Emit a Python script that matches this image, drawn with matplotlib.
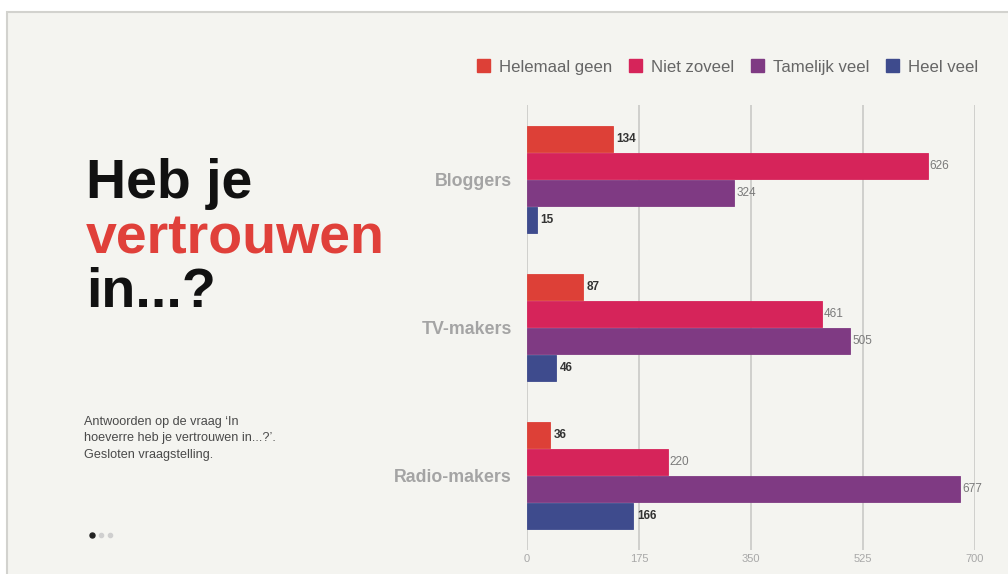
import numpy as np
import matplotlib
matplotlib.use('Agg')
import matplotlib.pyplot as plt
from matplotlib.patches import Rectangle, Patch
from matplotlib.lines import Line2D

plt.rcParams['font.family'] = ['Liberation Sans', 'DejaVu Sans']

# data
groups = ['Bloggers', 'TV-makers', 'Radio-makers']
answers = ['Helemaal geen', 'Niet zoveel', 'Tamelijk veel', 'Heel veel']
helemaal_geen = [134, 87, 36]
niet_zoveel = [626, 461, 220]
tamelijk_veel = [324, 505, 677]
heel_veel = [15, 46, 166]
series = [helemaal_geen, niet_zoveel, tamelijk_veel, heel_veel]
x_ticks = [0, 175, 350, 525, 700]

colors = ['#dd4037', '#d6245a', '#7f3a83', '#3e4b8d']
bg = '#f4f4f0'

W, H = 1008, 574
fig = plt.figure(figsize=(W / 100, H / 100), dpi=100)
fig.patch.set_facecolor('white')

# slide panel with thin grey frame
fig.add_artist(Rectangle((7 / W, -0.1), 1.2, 1 - 12.5 / H + 0.1, transform=fig.transFigure,
                         facecolor=bg, edgecolor='#d2d2ce', linewidth=1.5, zorder=0))

ax = fig.add_axes([527 / W, 1 - 550 / H, 448 / W, 445 / H])
ax.set_facecolor('none')

step = 0.182
height = 0.175
y = np.arange(len(groups))
for i, (vals, col) in enumerate(zip(series, colors)):
    pos = y + (i - 1.5) * step
    ax.barh(pos, vals, height=height, color=col, edgecolor=col, linewidth=0.6, zorder=3)
    for p, v in zip(pos, vals):
        if i in (0, 3):
            ax.text(v + 6, p, str(v), va='center', ha='left', fontsize=8.5,
                    fontweight='bold', color='#333333', zorder=4)
        else:
            ax.text(v + 3, p, str(v), va='center', ha='left', fontsize=8.5,
                    color='#7a7a7a', zorder=4)

ax.set_xlim(0, 700)
ax.set_ylim(2.5, -0.5)
ax.set_xticks(x_ticks)
ax.set_xticklabels([str(t) for t in x_ticks], fontsize=8, color='#a8a8a8')
ax.set_yticks(y)
ax.set_yticklabels(groups, fontsize=12.8, fontweight='bold', color='#a4a4a4')
ax.tick_params(axis='x', length=0, pad=3)
ax.tick_params(axis='y', length=0, pad=11)
for t in x_ticks:
    ax.axvline(t, color='#c9c9c7', linewidth=1.2, zorder=1)
for s in ax.spines.values():
    s.set_visible(False)

# legend
handles = [Patch(facecolor=c, edgecolor=c) for c in colors]
fig.legend(handles, answers, ncol=4, frameon=False, loc='center right',
           bbox_to_anchor=(978 / W, 1 - 67 / H), fontsize=12.1, labelcolor='#666666',
           handlelength=0.75, handleheight=0.75, handletextpad=0.55, columnspacing=1.0,
           borderaxespad=0, borderpad=0)

# title block
fig.text(86 / W, 1 - 198 / H, 'Heb je', fontsize=40, fontweight='bold', color='#111111', va='baseline')
fig.text(86 / W, 1 - 253 / H, 'vertrouwen', fontsize=40, fontweight='bold', color='#e0403a', va='baseline')
fig.text(86 / W, 1 - 307 / H, 'in...?', fontsize=40, fontweight='bold', color='#111111', va='baseline')

sub = ['Antwoorden op de vraag ‘In', 'hoeverre heb je vertrouwen in...?’.', 'Gesloten vraagstelling.']
for k, line in enumerate(sub):
    fig.text(84 / W, 1 - (422 + 16.5 * k) / H, line, fontsize=9.1, color='#4a4a4a', va='center')

# page dots
for k, (c, s) in enumerate([('#222222', 3.6), ('#cfcfcf', 3), ('#cfcfcf', 3)]):
    fig.add_artist(Line2D([(92 + 9 * k) / W], [1 - 535 / H], marker='o', markersize=s,
                          color=c, linestyle='none', transform=fig.transFigure))

fig.savefig('out.png', dpi=100, facecolor=fig.get_facecolor())
